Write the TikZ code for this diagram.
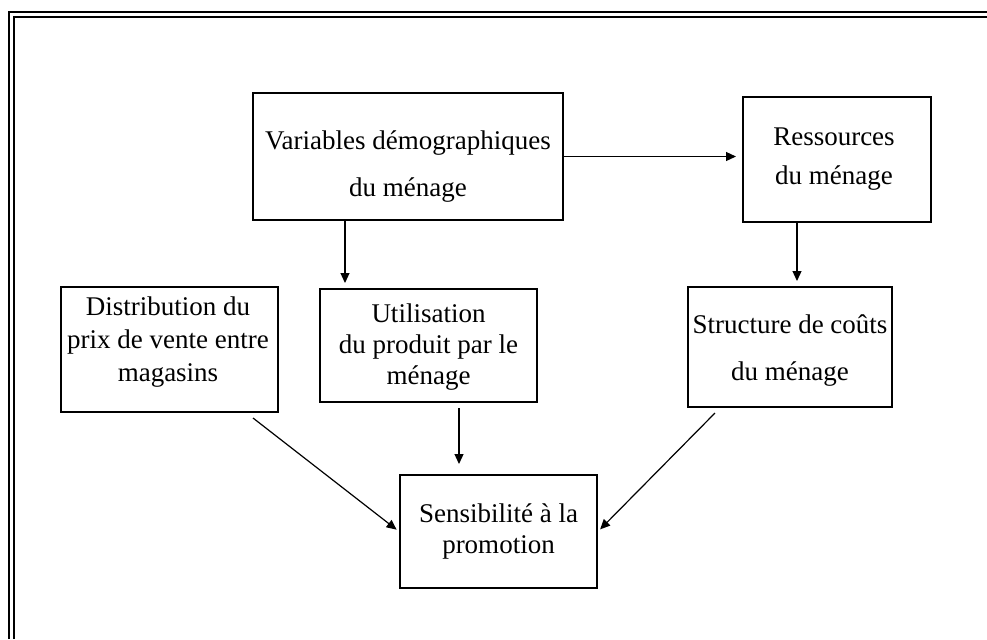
\documentclass[tikz,border=0pt]{standalone}
\usepackage{fontspec}
\setmainfont{Liberation Serif}
\usetikzlibrary{arrows.meta,calc}
\begin{document}
\begin{tikzpicture}[x=0.5pt,y=-0.5pt,
  box/.style={draw,line width=1pt,inner sep=0pt},
  txt/.style={anchor=base,inner sep=0pt,font=\fontsize{13.5}{16}\selectfont},
  arr/.style={line width=0.6pt,-{Triangle[length=5pt,width=4.5pt]}},
  frameline/.style={line width=0.9pt}]
\useasboundingbox (0,0) rectangle (987,639);
% outer double frame
\draw[frameline] (9,639) -- (9,12) -- (987,12);
\draw[frameline] (14,639) -- (14,17) -- (987,17);
% boxes
\node[box,minimum width=155pt,minimum height=63.5pt] (var) at (408,156.5) {};
\node[box,minimum width=94pt,minimum height=62.5pt] (res) at (837,159.5) {};
\node[box,minimum width=108.5pt,minimum height=62.5pt] (dist) at (169.5,349.5) {};
\node[box,minimum width=108.5pt,minimum height=56.5pt] (util) at (428.5,345.5) {};
\node[box,minimum width=102pt,minimum height=60pt] (str) at (790,347) {};
\node[box,minimum width=98.5pt,minimum height=56.5pt] (sens) at (498.5,531.5) {};
% texts
\node[txt] (var1) at (408,149) {Variables démographiques};
\node[txt] (var2) at (408,196) {du ménage};
\node[txt] (res1) at (834,145) {Ressources};
\node[txt] (res2) at (834,184) {du ménage};
\node[txt] (dist1) at (168,315) {Distribution du};
\node[txt] (dist2) at (168,348) {prix de vente entre};
\node[txt] (dist3) at (168,381) {magasins};
\node[txt] (util1) at (428.5,322) {Utilisation};
\node[txt] (util2) at (428.5,353) {du produit par le};
\node[txt] (util3) at (428.5,384) {ménage};
\node[txt] (str1) at (790,333) {Structure de coûts};
\node[txt] (str2) at (790,380) {du ménage};
\node[txt] (sens1) at (498.5,522) {Sensibilité à la};
\node[txt] (sens2) at (498.5,553) {promotion};
% connectors
\draw[arr,shorten >=3pt] (var.east) -- (var.east -| res.west);
\draw[arr,shorten >=2.5pt] ([xshift=-20pt]res.south) -- ([xshift=-20pt]res.south |- str.north);
\draw[arr,shorten >=2.5pt] ([xshift=-31.5pt]var.south) -- ([xshift=-31.5pt]var.south |- util.north);
\draw[arr,shorten <=2.5pt,shorten >=5pt] ([xshift=15.25pt]util.south) -- ([xshift=15.25pt]util.south |- sens.north);
\coordinate (d1) at (253,418);
\coordinate (s1) at (715,413);
\draw[arr,shorten >=1.5pt] (d1) -- (sens.west);
\draw[arr,shorten >=1.5pt] (s1) -- (sens.east);
\end{tikzpicture}
\end{document}
